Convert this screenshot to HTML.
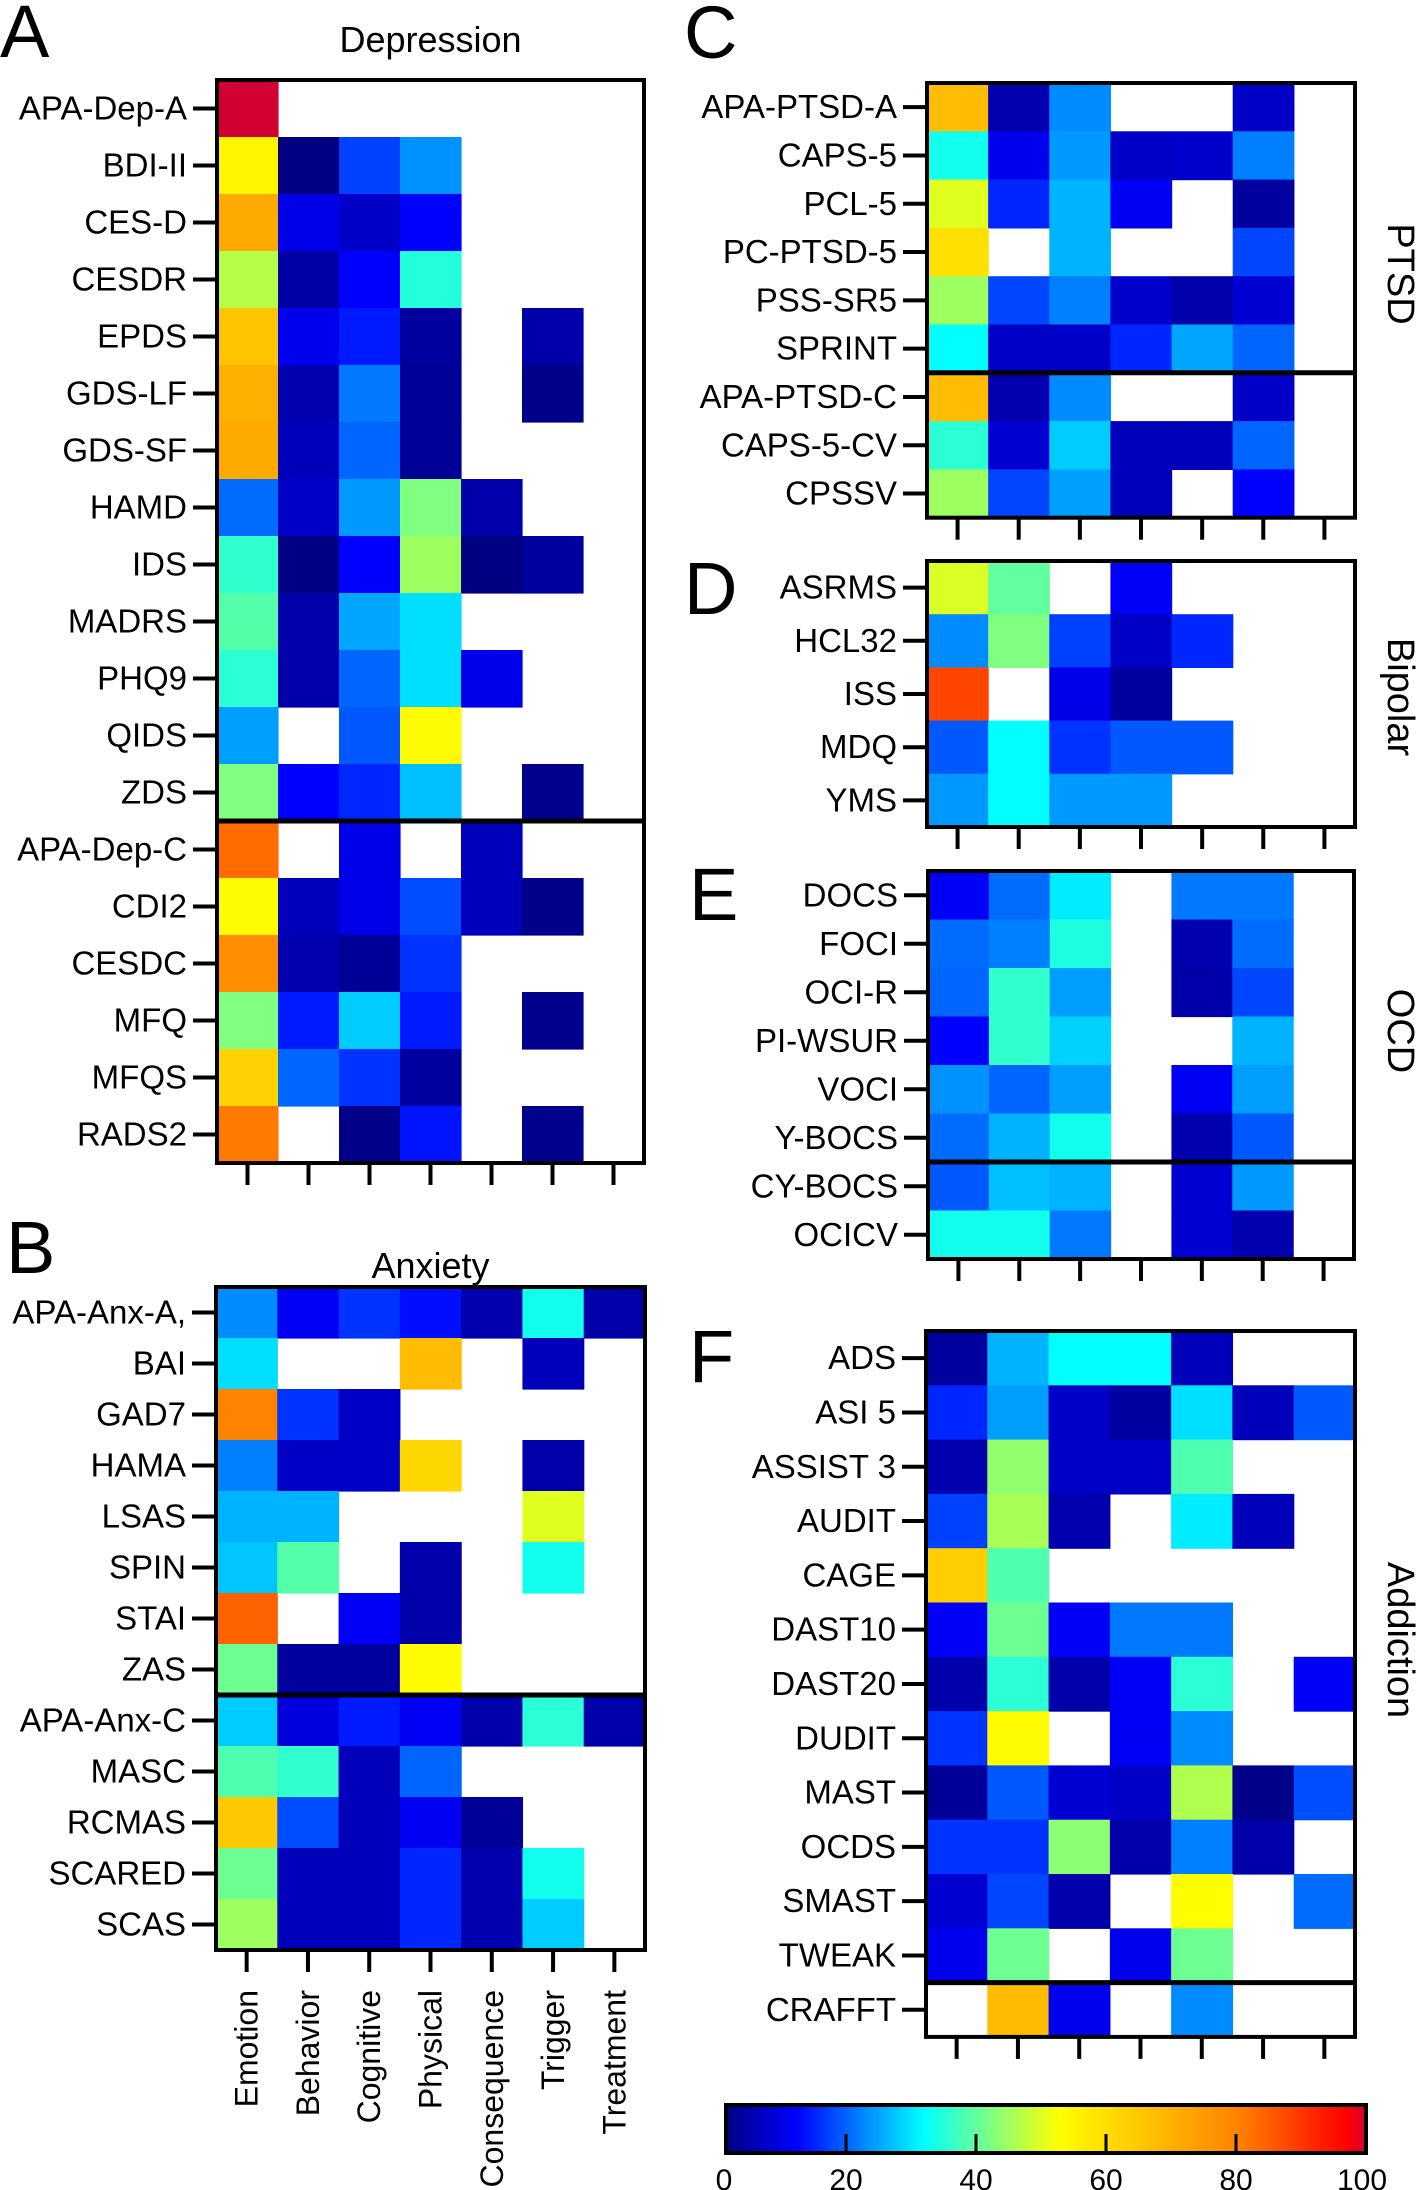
<!DOCTYPE html>
<html><head><meta charset="utf-8">
<style>
html,body{margin:0;padding:0;background:#fff;}
svg{display:block;font-family:"Liberation Sans",Arial,sans-serif;}
</style></head>
<body>
<svg id="fig" width="1417" height="2190" viewBox="0 0 1417 2190" xmlns="http://www.w3.org/2000/svg">
<defs>
<linearGradient id="jet" x1="0" x2="1" y1="0" y2="0">
<stop offset="0" stop-color="rgb(0,0,130)"/>
<stop offset="0.11" stop-color="rgb(0,0,255)"/>
<stop offset="0.31" stop-color="rgb(0,255,255)"/>
<stop offset="0.52" stop-color="rgb(255,255,0)"/>
<stop offset="0.80" stop-color="rgb(255,130,0)"/>
<stop offset="0.97" stop-color="rgb(255,0,0)"/>
<stop offset="1" stop-color="rgb(210,0,50)"/>
</linearGradient>
</defs>
</svg>
<script>
const columns = ["Emotion","Behavior","Cognitive","Physical","Consequence","Trigger","Treatment"];
const N = null;
const depRows = ["APA-Dep-A","BDI-II","CES-D","CESDR","EPDS","GDS-LF","GDS-SF","HAMD","IDS","MADRS","PHQ9","QIDS","ZDS","APA-Dep-C","CDI2","CESDC","MFQ","MFQS","RADS2"];
const depVals = [
[100,N,N,N,N,N,N],[54,0,16,22.5,N,N,N],[71,9,6,11,N,N,N],[46,3,11,34,N,N,N],
[65,9.5,13,2.5,N,3.5,N],[70,4,20.5,2,N,0.5,N],[71,5,19,2,N,N,N],[19.5,6,23,41.5,3.5,N,N],
[35,0,11,44,0,2.5,N],[38,3.5,24,28.5,N,N,N],[34.5,3.5,19,28.5,9,N,N],[23.5,N,18,53,N,N,N],
[41.5,11,14,26,N,1,N],[83,N,9,N,5,N,N],[53,5,9,17,5,0.5,N],[77,4,2,15,N,N,N],
[41.5,13,27,13,N,1,N],[62,19,15,2.5,N,N,N],[81,N,0.5,12.5,N,1,N]];
const anxRows = ["APA-Anx-A,","BAI","GAD7","HAMA","LSAS","SPIN","STAI","ZAS","APA-Anx-C","MASC","RCMAS","SCARED","SCAS"];
const anxVals = [
[22,10,15,12,4,32.5,3.5],[28.5,N,N,67,N,5,N],[80,15,6,N,N,N,N],[21,6,6,61,N,3.5,N],
[25,25,N,N,N,49.5,N],[26.5,38,N,3.5,N,32.5,N],[84,N,10.5,3.5,N,N,N],[40,2.5,2.5,53,N,N,N],
[27,8,13,10,3.5,34.5,3.5],[37.5,35,5,19,N,N,N],[64,17,5,10,2,N,N],[40,5,5,14,4,32.5,N],[44,5,5,14,4,27,N]];
const ptsdRows = ["APA-PTSD-A","CAPS-5","PCL-5","PC-PTSD-5","PSS-SR5","SPRINT","APA-PTSD-C","CAPS-5-CV","CPSSV"];
const ptsdVals = [
[67,4,22,N,N,6,N],[32.5,9.5,23,6,6.5,21,N],[49.5,14,25,10,N,2.5,N],[59,N,25,N,N,16.5,N],
[44,16.5,21,6.5,3.5,7,N],[31,6,6,14,24,19,N],[67,4,22,N,N,6,N],[34.5,7,27,5,5,19,N],[44,16.5,23.5,5,N,11,N]];
const bipRows = ["ASRMS","HCL32","ISS","MDQ","YMS"];
const bipVals = [[49,39,N,10.5,N,N,N],[22,41.5,16,6,14,N,N],[88,N,9,2.5,N,N,N],[18,31,15,18,18,N,N],[23,31,23,23,N,N,N]];
const ocdRows = ["DOCS","FOCI","OCI-R","PI-WSUR","VOCI","Y-BOCS","CY-BOCS","OCICV"];
const ocdVals = [
[10.5,19.5,29.5,N,20.5,20.5,N],[19.5,21,33.5,N,4,19.5,N],[19,35,23.5,N,3.5,16.5,N],[11,35,27.5,N,N,25,N],
[22.5,19,23.5,N,10,23.5,N],[19.5,25,32.5,N,4,18,N],[18,26,25,N,7,23,N],[32.5,32.5,20.5,N,7,4,N]];
const addRows = ["ADS","ASI 5","ASSIST 3","AUDIT","CAGE","DAST10","DAST20","DUDIT","MAST","OCDS","SMAST","TWEAK","CRAFFT"];
const addVals = [
[2.5,25,31,31,5,N,N],[14,23.5,6,2.5,28.5,5,18],[4,43,6,6,37.5,N,N],[16,45,4,N,29.5,5,N],
[63,37.5,N,N,N,N,N],[10.5,40,10.5,20.5,20.5,N,N],[3.5,34.5,3.5,10.5,34.5,N,10.5],[15,53,N,10,22,N,N],
[2,18,7,6,45.5,0.5,17],[15,15,42.5,3.5,21,3.5,N],[7,16.5,3.5,N,52.5,N,19.5],[9.5,40,N,9.5,40,N,N],[N,67,9.5,N,22,N,N]];
const cbTicks = [0,20,40,60,80,100];

const stops=[[0,[0,0,130]],[11,[0,0,255]],[31,[0,255,255]],[52,[255,255,0]],[80,[255,130,0]],[97,[255,0,0]],[100,[210,0,50]]];
function cmap(v){
  for(let i=1;i<stops.length;i++){
    if(v<=stops[i][0]){const a=stops[i-1],b=stops[i];const t=(v-a[0])/(b[0]-a[0]);
      const c=a[1].map((x,k)=>Math.round(x+(b[1][k]-x)*t));return `rgb(${c[0]},${c[1]},${c[2]})`;}
  }
  return 'rgb(210,0,50)';
}
const svg=document.getElementById('fig');
const NS='http://www.w3.org/2000/svg';
function mk(tag,attrs,parent){const e=document.createElementNS(NS,tag);for(const k in attrs)e.setAttribute(k,attrs[k]);(parent||svg).appendChild(e);return e;}
function txt(s,attrs,parent){const e=mk('text',attrs,parent);e.textContent=s;return e;}

function panel(cfg){
  const g=mk('g',{});
  
  
  const cw=(cfg.x1-cfg.x0)/columns.length;
  const xs=c=>cfg.x0+c*cw;
  const ys=r=>cfg.y0+r*cfg.rh;
  cfg.vals.forEach((row,r)=>row.forEach((v,c)=>{
    if(v===null)return;
    const rc=mk('rect',{x:xs(c),y:ys(r),width:cw+0.6,height:cfg.rh+0.6,fill:cmap(v)},g);
    
    
  }));
  const box=mk('rect',{x:cfg.x0,y:cfg.y0,width:cfg.x1-cfg.x0,height:cfg.rows.length*cfg.rh,fill:'none',stroke:'#000','stroke-width':4},g);
  
  
  if(cfg.sep!=null){
    const l=mk('line',{x1:cfg.x0,x2:cfg.x1,y1:ys(cfg.sep),y2:ys(cfg.sep),stroke:'#000','stroke-width':5},g);
    
    
  }
  cfg.rows.forEach((lab,r)=>{
    const yc=ys(r)+cfg.rh/2;
    mk('line',{x1:cfg.x0-24,x2:cfg.x0,y1:yc,y2:yc,stroke:'#000','stroke-width':4},g);
    const t=txt(lab,{x:cfg.x0-30,y:yc+11,'text-anchor':'end','font-size':33},g);
    
    
  });
  const yb=cfg.y0+cfg.rows.length*cfg.rh;
  columns.forEach((c,i)=>{
    const xc=xs(i)+cw/2;
    mk('line',{x1:xc,x2:xc,y1:yb,y2:yb+22,stroke:'#000','stroke-width':4},g);
    if(cfg.collabels){
      const t=txt(c,{x:0,y:0,'text-anchor':'end','font-size':32,transform:`translate(${xc+11},${yb+40}) rotate(-90)`},g);
      
      
    }
  });
  const L=txt(cfg.letter,{x:cfg.lx,y:cfg.ly,'font-size':74},g);
  
  
  if(cfg.title){
    const t=txt(cfg.title,{x:(cfg.x0+cfg.x1)/2,y:cfg.ty,'text-anchor':'middle','font-size':36},g);
    
    
  }
  if(cfg.side){
    const t=txt(cfg.side,{x:0,y:0,'text-anchor':'middle','font-size':38,transform:`translate(1388,${cfg.sy}) rotate(90)`},g);
    
    
  }
}
panel({name:'depression',rows:depRows,vals:depVals,x0:217,x1:644,y0:80,rh:57,sep:13,letter:'A',lx:0,ly:57,title:'Depression',ty:52,collabels:false});
panel({name:'anxiety',rows:anxRows,vals:anxVals,x0:216,x1:645,y0:1287,rh:51,sep:8,letter:'B',lx:6,ly:1273,title:'Anxiety',ty:1278,collabels:true});
panel({name:'ptsd',rows:ptsdRows,vals:ptsdVals,x0:927,x1:1355,y0:83,rh:48.3,sep:6,letter:'C',lx:684,ly:58,side:'PTSD',sy:274});
panel({name:'bipolar',rows:bipRows,vals:bipVals,x0:927,x1:1355,y0:561,rh:53.2,sep:null,letter:'D',lx:684,ly:614,side:'Bipolar',sy:697});
panel({name:'ocd',rows:ocdRows,vals:ocdVals,x0:928,x1:1354,y0:871,rh:48.5,sep:6,letter:'E',lx:689,ly:920,side:'OCD',sy:1031});
panel({name:'addiction',rows:addRows,vals:addVals,x0:926,x1:1355,y0:1331,rh:54.3,sep:12,letter:'F',lx:689,ly:1382,side:'Addiction',sy:1640});

// colorbar
const cb=mk('g',{});


const bar=mk('rect',{x:726,y:2105,width:640,height:48,fill:'url(#jet)',stroke:'#000','stroke-width':4},cb);


const cbx=v=>716+v*6.5;
cbTicks.forEach(v=>{
  const x=cbx(v);
  if(v>0&&v<100) mk('line',{x1:x,x2:x,y1:2153,y2:2134,stroke:'#000','stroke-width':3},cb);
  const t=txt(String(v),{x:v===0?724:(v===100?1362:x),y:2190,'text-anchor':'middle','font-size':30},cb);
  
  
});
</script>
</body></html>
